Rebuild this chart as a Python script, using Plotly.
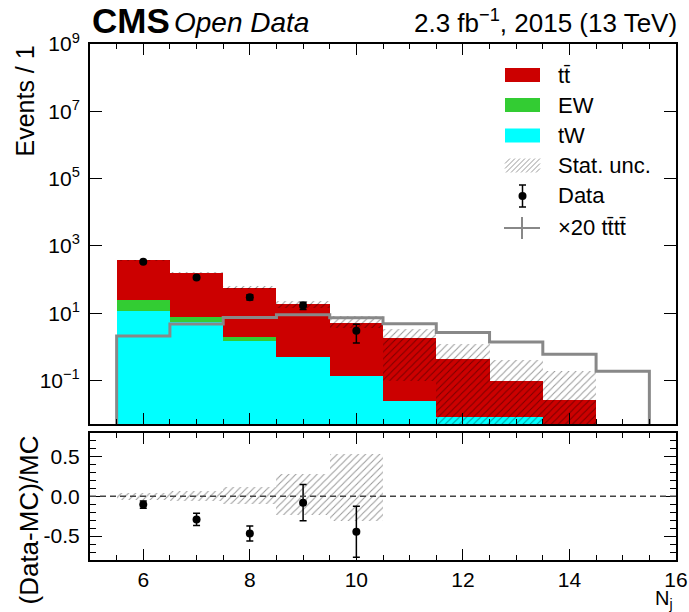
import numpy as np
import plotly.graph_objects as go

# ---------------- data ----------------
bins = [6, 7, 8, 9, 10, 11, 12, 13, 14, 15]
ttbar = [354, 154, 54.6, 18.0, 5.16, 1.75, 0.42, 0.089, 0.027, 0]
ew = [12.4, 2.1, 0.52, 0, 0, 0, 0, 0, 0, 0]
tw = [12.0, 5.5, 1.5, 0.50, 0.136, 0.0245, 0.0085, 0.0085, 0, 0]
tttt_x20 = [2.1, 4.8, 7.4, 9.0, 7.3, 4.9, 2.67, 1.40, 0.60, 0.19]
stat_hi = [393, 173, 63, 23.7, 8.1, 3.5, 1.19, 0.40, 0.19, 0]
stat_lo = [363, 152, 51, 14.2, 3.7, 0.1, 0, 0, 0, 0]

data_bins = [6, 7, 8, 9, 10]
data = [339, 115, 30, 17, 3]
data_err = [18.4, 10.7, 5.5, 4.1, 1.7]

ratio = [-0.104, -0.29, -0.467, -0.079, -0.446]
ratio_err = [0.045, 0.077, 0.095, 0.227, 0.32]
band_hi = [0.04, 0.07, 0.117, 0.283, 0.53]
band_lo = [-0.04, -0.06, -0.096, -0.23, -0.30]

y_ticks = [1e-1, 1e1, 1e3, 1e5, 1e7, 1e9]
y_ticktext = ["10<sup>\u22121</sup>", "10<sup>1</sup>", "10<sup>3</sup>",
              "10<sup>5</sup>", "10<sup>7</sup>", "10<sup>9</sup>"]
r_ticks = [-0.5, 0.0, 0.5]
r_ticktext = ["-0.5", "0.0", "0.5"]

# ---------------- styling ----------------
W, H = 689, 612
L, R, T, B = 90, 13, 44, 52
PW, PH = W - L - R, H - T - B
FONT = "Liberation Sans, Arial, Helvetica, sans-serif"
RED, GREEN, CYAN, GRAY = "#CC0000", "#33CC33", "#00FFFF", "#888888"
HATCH = dict(shape="/", fgcolor="black", fgopacity=0.4,
             bgcolor="rgba(0,0,0,0)", size=5, solidity=0.2)


def px(x):
    return (x - L) / PW


def py(y):
    return (H - B - y) / PH


fig = go.Figure()

# stacked backgrounds (tW bottom, EW, ttbar on top)
fig.add_trace(go.Bar(x=bins, y=tw, width=1, marker=dict(color=CYAN, line=dict(width=0)),
                     xaxis="x", yaxis="y", showlegend=False))
fig.add_trace(go.Bar(x=bins, y=ew, base=tw, width=1,
                     marker=dict(color=GREEN, line=dict(width=0)),
                     xaxis="x", yaxis="y", showlegend=False))
tt_base = [a + b for a, b in zip(tw, ew)]
fig.add_trace(go.Bar(x=bins, y=ttbar, base=tt_base, width=1,
                     marker=dict(color=RED, line=dict(width=0)),
                     xaxis="x", yaxis="y", showlegend=False))

# stat. uncertainty band
band_base = [max(lo, 1e-4) for lo in stat_lo]
band_h = [(hi - b) if hi > 0 else 0 for hi, b in zip(stat_hi, band_base)]
fig.add_trace(go.Bar(x=bins, y=band_h, base=band_base, width=1,
                     marker=dict(color="rgba(0,0,0,0)", line=dict(width=0), pattern=HATCH),
                     xaxis="x", yaxis="y", showlegend=False))

# x20 tttt outline histogram
edges_lo = [b - 0.5 for b in bins]
xs = [edges_lo[0]] + edges_lo + [bins[-1] + 0.5, bins[-1] + 0.5]
ys = [1e-4] + tttt_x20 + [tttt_x20[-1], 1e-4]
fig.add_trace(go.Scatter(x=xs, y=ys, mode="lines", line=dict(color=GRAY, width=3, shape="hv"),
                         xaxis="x", yaxis="y", showlegend=False))

# data
fig.add_trace(go.Scatter(x=data_bins, y=data, mode="markers",
                         marker=dict(color="black", size=8),
                         error_y=dict(type="data", array=data_err, color="black",
                                      thickness=1.5, width=3.5),
                         xaxis="x", yaxis="y", showlegend=False))

# ratio band
rb_h = [h - l for h, l in zip(band_hi, band_lo)]
fig.add_trace(go.Bar(x=data_bins, y=rb_h, base=band_lo, width=1,
                     marker=dict(color="rgba(0,0,0,0)", line=dict(width=0), pattern=HATCH),
                     xaxis="x2", yaxis="y2", showlegend=False))
fig.add_trace(go.Scatter(x=data_bins, y=ratio, mode="markers",
                         marker=dict(color="black", size=8),
                         error_y=dict(type="data", array=ratio_err, color="black",
                                      thickness=1.5, width=3.5),
                         xaxis="x2", yaxis="y2", showlegend=False))

axis_common = dict(showline=True, linecolor="black", linewidth=2, mirror="allticks",
                   showgrid=False, zeroline=False, ticks="inside", tickcolor="black",
                   automargin=False,
                   tickfont=dict(family=FONT, size=21, color="black"))

fig.update_layout(
    width=W, height=H, margin=dict(l=L, r=R, t=T, b=B),
    paper_bgcolor="white", plot_bgcolor="white", barmode="overlay", bargap=0,
    font=dict(family=FONT, color="black"),
    xaxis=dict(domain=[0, 1], anchor="y", range=[5, 16], showticklabels=False,
               tick0=0, dtick=2, ticklen=11,
               minor=dict(ticks="inside", ticklen=5, dtick=0.5, tick0=0, tickcolor="black"),
               **axis_common),
    yaxis=dict(domain=[py(424.3), 1], anchor="x", type="log",
               range=[np.log10(0.005), 9], tickvals=y_ticks, ticktext=y_ticktext,
               ticklen=12, ticklabelstandoff=4, **axis_common),
    xaxis2=dict(domain=[0, 1], anchor="y2", range=[5, 16], tick0=0, dtick=2, ticklen=11,
                ticklabelstandoff=0,
                minor=dict(ticks="inside", ticklen=5, dtick=0.5, tick0=0, tickcolor="black"),
                **axis_common),
    yaxis2=dict(domain=[0, py(432.7)], anchor="x2", range=[-0.8, 0.8],
                tickvals=r_ticks, ticktext=r_ticktext, ticklen=12, ticklabelstandoff=4,
                minor=dict(ticks="inside", ticklen=6, dtick=0.1, tick0=0, tickcolor="black"),
                **axis_common),
)

shapes = []
# dashed zero line in ratio
shapes.append(dict(type="line", xref="x2", yref="y2", x0=5, x1=16, y0=0, y1=0,
                   line=dict(color="#444444", width=1.5, dash="6px,4px")))

# ---------------- manual legend ----------------
bx0, bx1 = 505, 540
for yc, col in [(75, RED), (105, GREEN), (135.5, CYAN)]:
    shapes.append(dict(type="rect", xref="paper", yref="paper",
                       x0=px(bx0), x1=px(bx1), y0=py(yc + 7), y1=py(yc - 7),
                       fillcolor=col, line=dict(width=0)))
# hatched legend box
hy0, hy1 = 158.5, 172.5
hh = hy1 - hy0
k = bx0 - hh
while k < bx1:
    tmin = max(0.0, (bx0 - k) / hh)
    tmax = min(1.0, (bx1 - k) / hh)
    if tmin < tmax:
        shapes.append(dict(type="line", xref="paper", yref="paper",
                           x0=px(k + hh * tmin), y0=py(hy1 - hh * tmin),
                           x1=px(k + hh * tmax), y1=py(hy1 - hh * tmax),
                           line=dict(color="rgba(0,0,0,0.4)", width=1)))
    k += 5
# data legend marker
dx, dy = 522.5, 196
shapes.append(dict(type="line", xref="paper", yref="paper", x0=px(dx), x1=px(dx),
                   y0=py(185), y1=py(207), line=dict(color="black", width=1.5)))
for yy in (185, 207):
    shapes.append(dict(type="line", xref="paper", yref="paper", x0=px(dx - 3.5), x1=px(dx + 3.5),
                       y0=py(yy), y1=py(yy), line=dict(color="black", width=1.5)))
shapes.append(dict(type="circle", xref="paper", yref="paper", x0=px(dx - 4), x1=px(dx + 4),
                   y0=py(dy + 4), y1=py(dy - 4), fillcolor="black", line=dict(width=0)))
# x20 tttt legend cross
shapes.append(dict(type="line", xref="paper", yref="paper", x0=px(504), x1=px(540),
                   y0=py(228), y1=py(228), line=dict(color=GRAY, width=2)))
shapes.append(dict(type="line", xref="paper", yref="paper", x0=px(522), x1=px(522),
                   y0=py(217), y1=py(239), line=dict(color=GRAY, width=2)))

annotations = []
leg_labels = [("tt\u0304", 75), ("EW", 105), ("tW", 135.5), ("Stat. unc.", 165.5),
              ("Data", 196), ("\u00d720 tt\u0304tt\u0304", 228)]
for txt, yc in leg_labels:
    annotations.append(dict(text=txt, xref="paper", yref="paper", x=px(556), y=py(yc),
                            xanchor="left", yanchor="middle", showarrow=False,
                            font=dict(family=FONT, size=22, color="black")))

# header
annotations.append(dict(text="<b>CMS</b>", xref="paper", yref="paper", x=px(90), y=py(21),
                        xanchor="left", yanchor="middle", showarrow=False,
                        font=dict(family=FONT, size=35, color="black")))
annotations.append(dict(text="<i>Open Data</i>", xref="paper", yref="paper", x=px(172), y=py(23),
                        xanchor="left", yanchor="middle", showarrow=False,
                        font=dict(family=FONT, size=28, color="black")))
annotations.append(dict(text="2.3 fb<sup>\u22121</sup>, 2015 (13 TeV)", xref="paper", yref="paper",
                        x=px(679), y=py(22), xanchor="right", yanchor="middle", showarrow=False,
                        font=dict(family=FONT, size=26, color="black")))
# axis titles
annotations.append(dict(text="Events / 1", xref="paper", yref="paper", x=px(24), y=py(44),
                        xanchor="center", yanchor="top", textangle=-90, showarrow=False,
                        font=dict(family=FONT, size=25, color="black")))
annotations.append(dict(text="(Data-MC)/MC", xref="paper", yref="paper", x=px(28), y=py(434),
                        xanchor="center", yanchor="top", textangle=-90, showarrow=False,
                        font=dict(family=FONT, size=26, color="black")))
annotations.append(dict(text="N<sub>j</sub>", xref="paper", yref="paper", x=px(674), y=py(599),
                        xanchor="right", yanchor="middle", showarrow=False, borderpad=0,
                        font=dict(family=FONT, size=20, color="black")))

fig.update_layout(shapes=shapes, annotations=annotations)
fig.write_html("out.html")
